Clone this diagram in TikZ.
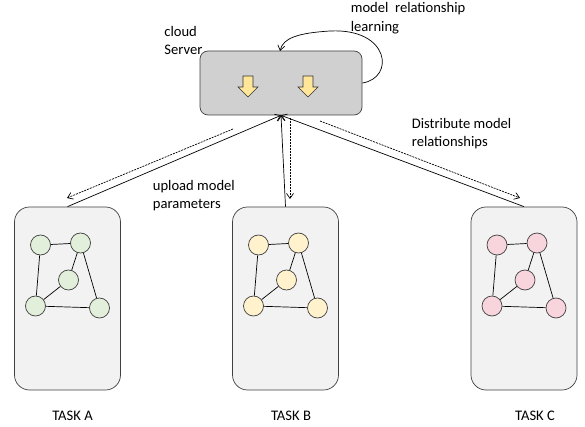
\documentclass[tikz,border=0pt]{standalone}
\usepackage{fontspec}
\setmainfont{Carlito}
\usetikzlibrary{arrows.meta}

\definecolor{servergray}{HTML}{D0D0D0}
\definecolor{boxgray}{HTML}{F2F2F2}
\definecolor{greenA}{HTML}{E2EFDA}
\definecolor{yellowB}{HTML}{FFF2CC}
\definecolor{pinkC}{HTML}{F8D5DC}
\definecolor{arrowyellow}{HTML}{FFE699}

\tikzset{
  server/.style={draw=black!75, fill=servergray, rounded corners=8pt, minimum width=162pt, minimum height=64pt, inner sep=0pt},
  taskbox/.style={draw=black!75, fill=boxgray, rounded corners=15pt, minimum width=106pt, minimum height=183pt, inner sep=0pt},
  vertex/.style={circle, draw=black!75, minimum size=20pt, inner sep=0pt},
  lbl/.style={align=left, anchor=base west, inner sep=0pt, font=\fontsize{14.6}{18.5}\selectfont},
  tasklbl/.style={anchor=base, inner sep=0pt, font=\fontsize{14.6}{18}\selectfont},
  upload/.style={-{Straight Barb[length=5pt,width=7pt]}},
  distribute/.style={dashed, dash pattern=on 2pt off 1pt, -{Straight Barb[length=5pt,width=7pt]}}
}

\begin{document}
\begin{tikzpicture}[x=1pt, y=-1pt, line width=0.7pt]
\useasboundingbox (0,0) rectangle (585,427);

% cloud server
\node[server] (srv) at (281,83) {};
\foreach \ax in {248,308}
{
\filldraw[fill=arrowyellow, draw=black!80, line width=0.6pt]
  (\ax-5,76) -- (\ax+5,76) -- (\ax+5,87) -- (\ax+10,87) -- (\ax,97)
  -- (\ax-10,87) -- (\ax-5,87) -- cycle;
}
\coordinate (loopin) at (280,51);
\draw[upload] (srv.east) .. controls (395,78) and (390,28) .. (330,31)
  .. controls (298,33) and (283,38) .. (loopin);
% base anchor of a two-line label = baseline of its last line
\node[lbl] (srvtxt) at (164,55) {cloud\\Server};
\node[lbl] (looptxt) at (350.5,31.5) {model~~relationship\\learning};

% tasks
\foreach \t/\x/\c in {A/67.5/greenA, B/285.5/yellowB, C/524/pinkC}
{
\node[taskbox] (task\t) at (\x,298.5) {};
\node[vertex, fill=\c] (v\t1) at (\x-27,245) {};
\node[vertex, fill=\c] (v\t2) at (\x+13,243) {};
\node[vertex, fill=\c] (v\t3) at (\x+1,280) {};
\node[vertex, fill=\c] (v\t4) at (\x-32,306) {};
\node[vertex, fill=\c] (v\t5) at (\x+32,308) {};
\draw (v\t1) -- (v\t2);
\draw (v\t1) -- (v\t4);
\draw (v\t2) -- (v\t3);
\draw (v\t2) -- (v\t5);
\draw (v\t3) -- (v\t4);
\draw (v\t4) -- (v\t5);
\draw[upload] (task\t.north) -- (srv.south);
}
\node[tasklbl] (lblA) at (72.5,420) {TASK A};
\node[tasklbl] (lblB) at (291,420) {TASK B};
\node[tasklbl] (lblC) at (535,420) {TASK C};

% distribution of relationships
\coordinate (dA0) at (233,129);
\coordinate (dA1) at (67,198);
\coordinate (dB0) at (290,118);
\coordinate (dB1) at (290,199);
\coordinate (dC0) at (320,121);
\coordinate (dC1) at (520,198);
\draw[distribute] (dA0) -- (dA1);
\draw[distribute] (dB0) -- (dB1);
\draw[distribute] (dC0) -- (dC1);

\node[lbl] (uptxt) at (152.5,209) {upload model\\parameters};
\node[lbl] (distxt) at (411.5,147) {Distribute model\\relationships};
\end{tikzpicture}
\end{document}
